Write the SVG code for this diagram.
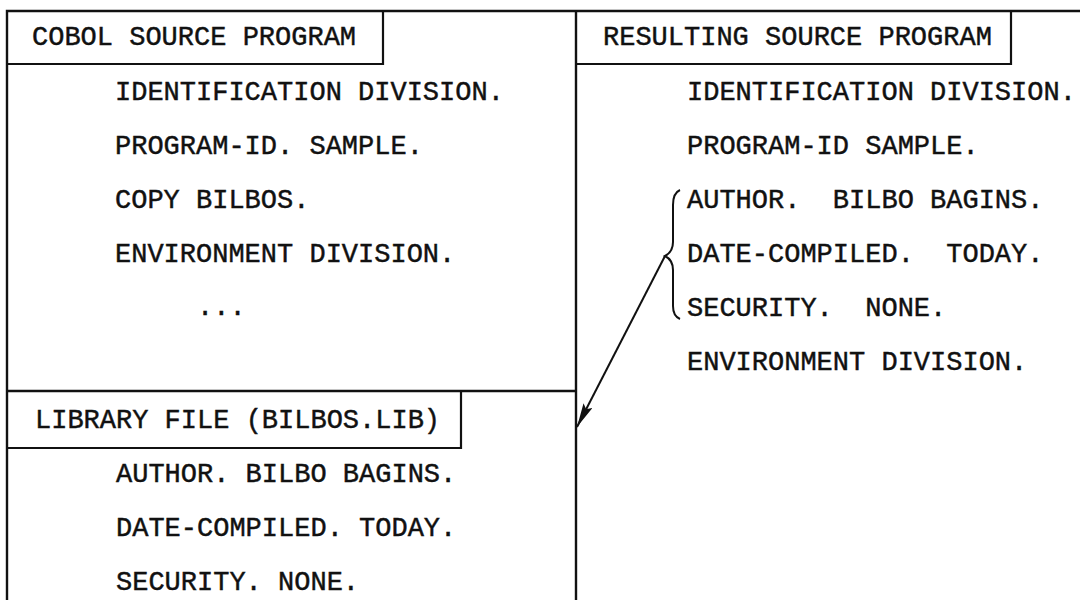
<svg xmlns="http://www.w3.org/2000/svg" width="1080" height="600" viewBox="0 0 1080 600">
<style>
  .frame { fill: none; stroke: #111; stroke-width: 2.4; }
  .tbox { fill: none; stroke: #111; stroke-width: 2.2; }
  .t { font-family: "Liberation Mono", "Courier New", monospace; font-size: 27px; fill: #111; stroke: #111; stroke-width: 0.45; white-space: pre; }
  .conn { fill: none; stroke: #111; stroke-width: 2; }
</style>
<defs>
  <marker id="arrow" markerUnits="userSpaceOnUse" markerWidth="26" markerHeight="12" refX="24" refY="5" orient="auto">
    <path d="M0,0 L24,5 L0,10 L4,5 z" fill="#111"/>
  </marker>
</defs>
<rect width="1080" height="600" fill="#fff"/>
<g id="frame">
  <path class="frame" d="M7,600 L7,11 L1080,11"/>
  <path class="frame" d="M576,11 L576,600"/>
  <path class="frame" d="M7,391 L576,391"/>
</g>
<g id="cobol-source">
  <path class="tbox" d="M7,64 L383,64 L383,11"/>
  <text class="t" x="32" y="45">COBOL SOURCE PROGRAM</text>
  <text class="t" x="115" y="100">IDENTIFICATION DIVISION.</text>
  <text class="t" x="115" y="154">PROGRAM-ID. SAMPLE.</text>
  <text class="t" x="115" y="208">COPY BILBOS.</text>
  <text class="t" x="115" y="262">ENVIRONMENT DIVISION.</text>
  <text class="t" x="197" y="315">...</text>
</g>
<g id="library-file">
  <path class="tbox" d="M7,448 L461,448 L461,391"/>
  <text class="t" x="35" y="428">LIBRARY FILE (BILBOS.LIB)</text>
  <text class="t" x="116" y="482">AUTHOR. BILBO BAGINS.</text>
  <text class="t" x="116" y="536">DATE-COMPILED. TODAY.</text>
  <text class="t" x="116" y="590">SECURITY. NONE.</text>
</g>
<g id="resulting-source">
  <path class="tbox" d="M576,64 L1011,64 L1011,11"/>
  <text class="t" x="603" y="45">RESULTING SOURCE PROGRAM</text>
  <text class="t" x="687" y="100">IDENTIFICATION DIVISION.</text>
  <text class="t" x="687" y="154">PROGRAM-ID SAMPLE.</text>
  <text class="t" x="687" y="208">AUTHOR.  BILBO BAGINS.</text>
  <text class="t" x="687" y="262">DATE-COMPILED.  TODAY.</text>
  <text class="t" x="687" y="316">SECURITY.  NONE.</text>
  <text class="t" x="687" y="370">ENVIRONMENT DIVISION.</text>
</g>
<g id="connectors">
  <path class="conn" d="M680,190 Q673,193 673,205 L673,242 Q673,252 665,256 Q673,260 673,270 L673,306 Q673,316 680,319"/>
  <path class="conn" d="M665,256 L577,427" marker-end="url(#arrow)"/>
</g>
</svg>
